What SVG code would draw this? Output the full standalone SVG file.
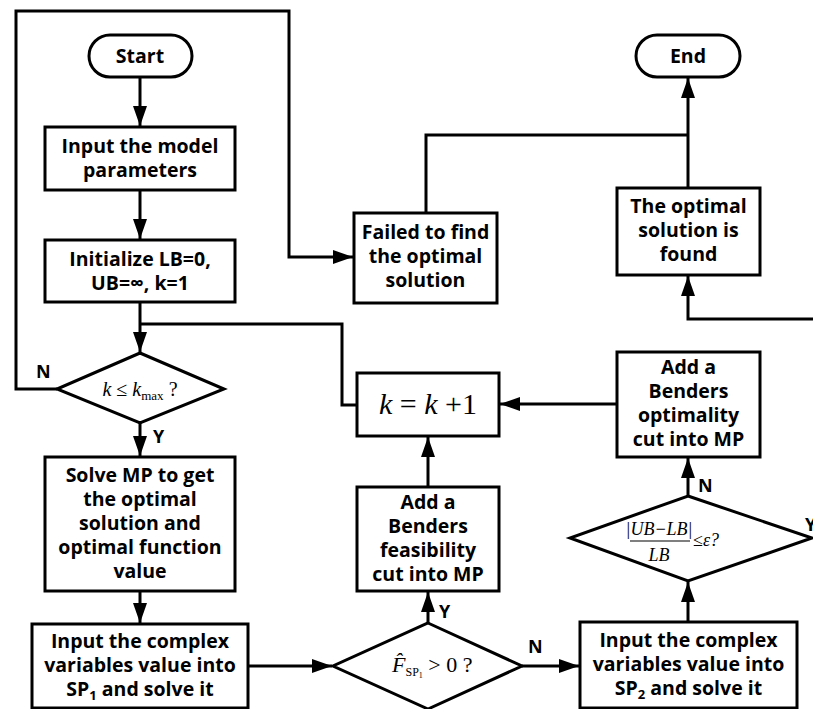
<svg xmlns="http://www.w3.org/2000/svg" width="813" height="709" viewBox="0 0 813 709">
<defs>
<marker id="ah" markerUnits="userSpaceOnUse" markerWidth="20" markerHeight="14" refX="20" refY="7" orient="auto">
<path d="M0,0 L20,7 L0,14 z" fill="#000"/>
</marker>
<style>
.box{fill:#fff;stroke:#000;stroke-width:3}
.ln{fill:none;stroke:#000;stroke-width:3}
.ar{fill:none;stroke:#000;stroke-width:3;marker-end:url(#ah)}
.t{font-family:"Open Sans","Noto Sans",sans-serif;font-weight:700;font-size:19.5px;text-anchor:middle;fill:#000}
.lb{font-family:"Open Sans","Noto Sans",sans-serif;font-weight:700;font-size:18px;fill:#000}
.m{font-family:"Liberation Serif","Times New Roman",serif;fill:#000}
</style>
</defs>
<rect width="813" height="709" fill="#fff"/>
<g id="connectors">
<path class="ar" d="M140,77 V126"/>
<path class="ar" d="M140,190 V239"/>
<path class="ar" d="M140,302 V352"/>
<path class="ln" d="M357,405 H342 V324 H140"/>
<path class="ar" d="M57,389 H16 V11 H289 V257 H353"/>
<path class="ar" d="M140,423 V456"/>
<path class="ar" d="M140,591 V623"/>
<path class="ar" d="M248,666 H332"/>
<path class="ar" d="M428,623 V592"/>
<path class="ar" d="M428,487 V437"/>
<path class="ar" d="M522,666 H579"/>
<path class="ar" d="M688,622 V582"/>
<path class="ar" d="M688,496 V458"/>
<path class="ar" d="M617,404 H500"/>
<path class="ln" d="M426,213 V135 H688"/>
<path class="ar" d="M688,188 V78"/>
<path class="ar" d="M815,319 H688 V276"/>
</g>
<g id="start"><rect class="box" x="89" y="35" width="103" height="42" rx="21"/><text class="t" x="140" y="63">Start</text></g>
<g id="end"><rect class="box" x="636" y="35" width="104" height="42" rx="21"/><text class="t" x="688" y="63">End</text></g>
<g id="input"><rect class="box" x="45" y="127" width="190" height="63"/><text class="t" x="140" y="153">Input the model</text><text class="t" x="140" y="177">parameters</text></g>
<g id="init"><rect class="box" x="45" y="240" width="190" height="62"/><text class="t" x="140" y="266">Initialize LB=0,</text><text class="t" x="140" y="290">UB=∞, k=1</text></g>
<g id="failed"><rect class="box" x="354" y="213" width="143" height="90"/><text class="t" x="425.5" y="239">Failed to find</text><text class="t" x="425.5" y="263">the optimal</text><text class="t" x="425.5" y="287">solution</text></g>
<g id="found"><rect class="box" x="617" y="188" width="143" height="87"/><text class="t" x="688.5" y="213">The optimal</text><text class="t" x="688.5" y="237">solution is</text><text class="t" x="688.5" y="261">found</text></g>
<g id="dec1"><path class="box" d="M140,353 L224,389 L140,423 L57,389 Z"/><text class="m" x="140" y="396" font-size="20" text-anchor="middle"><tspan font-style="italic">k</tspan> ≤ <tspan font-style="italic">k</tspan><tspan font-size="13" dy="4">max</tspan><tspan dy="-4"> ?</tspan></text></g>
<g id="kinc"><rect class="box" x="357" y="373" width="142" height="63"/><text class="m" x="428" y="414" font-size="30" text-anchor="middle"><tspan font-style="italic">k</tspan> = <tspan font-style="italic">k</tspan> +1</text></g>
<g id="optcut"><rect class="box" x="617" y="352" width="143" height="105"/><text class="t" x="688.5" y="374">Add a</text><text class="t" x="688.5" y="398">Benders</text><text class="t" x="688.5" y="422">optimality</text><text class="t" x="688.5" y="446">cut into MP</text></g>
<g id="solve"><rect class="box" x="45" y="457" width="190" height="134"/><text class="t" x="140" y="482">Solve MP to get</text><text class="t" x="140" y="506">the optimal</text><text class="t" x="140" y="530">solution and</text><text class="t" x="140" y="554">optimal function</text><text class="t" x="140" y="578">value</text></g>
<g id="feascut"><rect class="box" x="357" y="487" width="142" height="104"/><text class="t" x="428" y="509">Add a</text><text class="t" x="428" y="533">Benders</text><text class="t" x="428" y="557">feasibility</text><text class="t" x="428" y="581">cut into MP</text></g>
<g id="dec3"><path class="box" d="M688,496 L812,538 L688,581 L570,538 Z"/>
<text class="m" x="659" y="535" font-size="18" font-style="italic" text-anchor="middle">|UB−LB|</text>
<line x1="630" y1="541" x2="690" y2="541" stroke="#000" stroke-width="1.2"/>
<text class="m" x="659" y="561" font-size="18" font-style="italic" text-anchor="middle">LB</text>
<text class="m" x="693" y="546" font-size="18"><tspan>≤</tspan><tspan font-style="italic">ε</tspan><tspan font-style="italic">?</tspan></text></g>
<g id="sp1"><rect class="box" x="32" y="624" width="216" height="84"/><text class="t" x="140" y="648">Input the complex</text><text class="t" x="140" y="672">variables value into</text><text class="t" x="140" y="696">SP<tspan font-size="13" dy="4">1</tspan><tspan dy="-4"> and solve it</tspan></text></g>
<g id="dec2"><path class="box" d="M428,623 L522,666 L428,709 L333,666 Z"/><text class="m" x="392" y="672" font-size="22" font-style="italic">F&#x302;<tspan font-style="normal" font-size="12" dy="4">SP</tspan><tspan font-style="normal" font-size="8" dy="2">1</tspan><tspan font-style="normal" dy="-6"> &gt; 0 ?</tspan></text></g>
<g id="sp2"><rect class="box" x="580" y="622" width="217" height="86"/><text class="t" x="688.5" y="647">Input the complex</text><text class="t" x="688.5" y="671">variables value into</text><text class="t" x="688.5" y="695">SP<tspan font-size="13" dy="4">2</tspan><tspan dy="-4"> and solve it</tspan></text></g>
<g id="labels">
<text class="lb" x="36" y="378">N</text>
<text class="lb" x="153" y="443">Y</text>
<text class="lb" x="439" y="618">Y</text>
<text class="lb" x="528" y="653">N</text>
<text class="lb" x="698" y="492">N</text>
<text class="lb" x="805" y="531">Y</text>
</g>
</svg>
